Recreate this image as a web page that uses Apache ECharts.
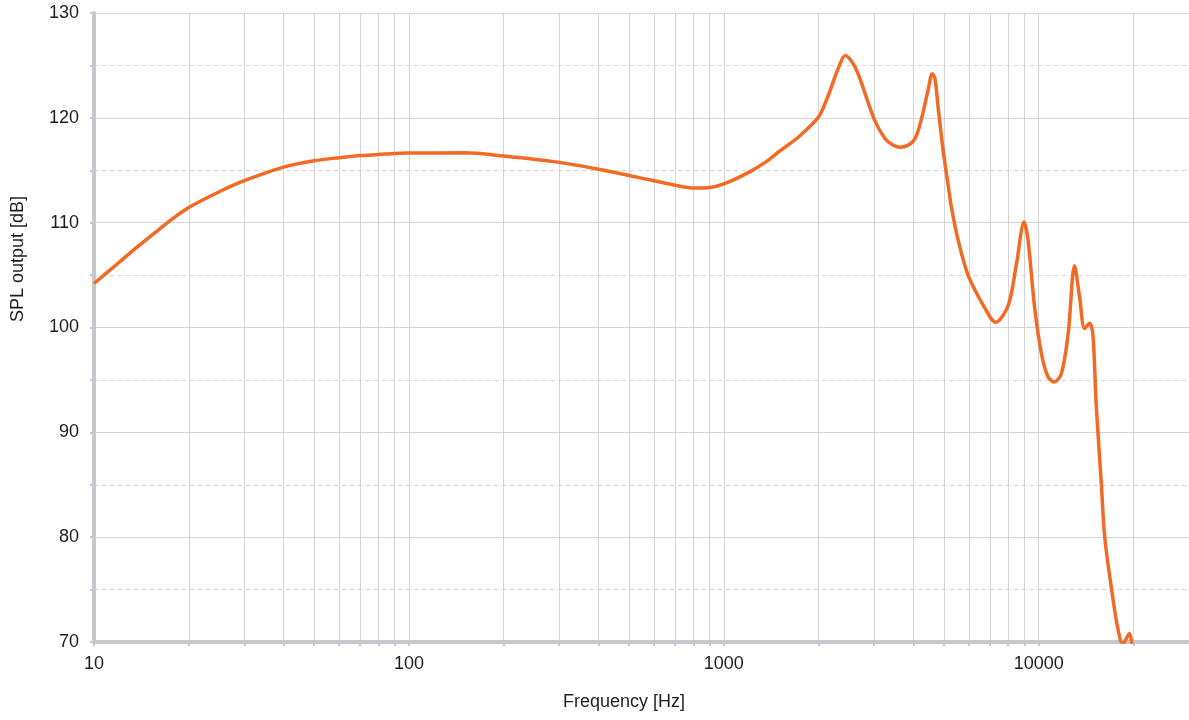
<!DOCTYPE html>
<html>
<head>
<meta charset="utf-8">
<script src="https://cdn.jsdelivr.net/npm/echarts@6/dist/echarts.min.js"></script>
<style>html,body{margin:0;padding:0;background:#fff;}#chart{width:1189px;height:720px;}</style>
</head>
<body>
<div id="chart"></div>
<script>
const frequencies = [10, 12, 14, 16, 18, 20, 25, 30, 40, 50, 60, 70, 80, 90, 100, 150, 200, 300, 400, 500, 600, 700, 800, 900, 1000, 1200, 1360, 1500, 1730, 2000, 2150, 2300, 2430, 2550, 2670, 3000, 3250, 3450, 3650, 3850, 4000, 4100, 4250, 4450, 4590, 4680, 4790, 4910, 5000, 5150, 5280, 5550, 6000, 7000, 7300, 8000, 8500, 8980, 9250, 9700, 10200, 10700, 11200, 11800, 12400, 12990, 13480, 13980, 14500, 14850, 15200, 15400, 15800, 16200, 17000, 17800, 18500, 19400, 19800];
const splValues = [104.2, 106.2, 107.9, 109.3, 110.5, 111.45, 112.95, 114.0, 115.3, 115.9, 116.2, 116.4, 116.5, 116.6, 116.64, 116.66, 116.35, 115.75, 115.1, 114.5, 114.0, 113.57, 113.3, 113.35, 113.7, 114.8, 115.8, 116.8, 118.2, 120.1, 122.2, 124.6, 125.95, 125.35, 124.2, 119.9, 118.0, 117.4, 117.2, 117.4, 117.8, 118.4, 120.0, 122.6, 124.2, 123.8, 121.05, 118.2, 116.3, 113.7, 111.5, 108.3, 104.8, 101.0, 100.5, 102.1, 106.1, 110.07, 108.3, 101.95, 97.5, 95.3, 94.8, 95.6, 99.4, 105.9, 102.9, 99.9, 100.4, 99.4, 93.0, 90.2, 85.1, 80.0, 75.2, 71.4, 69.8, 70.8, 69.6];
const xTickValues = [10,20,30,40,50,60,70,80,90,100,200,300,400,500,600,700,800,900,1000,2000,3000,4000,5000,6000,7000,8000,9000,10000,20000];
const xLabelValues = [10, 100, 1000, 10000];
const yTickLabels = [70, 80, 90, 100, 110, 120, 130];

const chart = echarts.init(document.getElementById('chart'));
const axisColor = '#c6c7cc';
const gridColor = '#d4d4d4';
const textColor = '#1e1e1e';
const fontFamily = '"Liberation Sans", Arial, sans-serif';
chart.setOption({
  animation: false,
  grid: { left: 94, right: -2, top: 13, bottom: 78, containLabel: false },
  xAxis: {
    type: 'log', logBase: 10, min: 10, max: 30000,
    axisLine: { show: true, onZero: false, lineStyle: { color: axisColor, width: 4 } },
    axisTick: { show: true, customValues: xTickValues, length: 4, lineStyle: { color: axisColor, width: 2 } },
    axisLabel: { customValues: xLabelValues, color: textColor, fontSize: 18, fontFamily: fontFamily, margin: 13,
      formatter: v => String(v) },
    splitLine: { show: true, lineStyle: { color: gridColor, width: 1 } },
    minorTick: { show: false }
  },
  yAxis: {
    type: 'value', min: 70, max: 130, interval: 10,
    axisLine: { show: true, lineStyle: { color: axisColor, width: 4 } },
    axisTick: { show: true, length: 4, lineStyle: { color: axisColor, width: 2 } },
    minorTick: { show: true, splitNumber: 2, length: 4, lineStyle: { color: axisColor, width: 2 } },
    axisLabel: { color: textColor, fontSize: 18, fontFamily: fontFamily, margin: 15,
      formatter: v => yTickLabels.includes(v) ? String(v) : '' },
    splitLine: { show: true, lineStyle: { color: gridColor, width: 1 } },
    minorSplitLine: { show: true, lineStyle: { color: gridColor, width: 1, type: [4, 4] } }
  },
  graphic: [
    { type: 'text', left: 9, top: 196, rotation: Math.PI / 2, style: { text: 'SPL output [dB]', fill: textColor, font: '18px ' + fontFamily } },
    { type: 'text', left: 563, top: 693, style: { text: 'Frequency [Hz]', fill: textColor, font: '18px ' + fontFamily } }
  ],
  series: [{
    type: 'line',
    data: frequencies.map((f, i) => [f, splValues[i]]),
    showSymbol: false,
    smooth: 0.3,
    clip: true,
    lineStyle: { color: '#f26a24', width: 3.5 },
    z: 5
  }]
});
</script>
</body>
</html>
